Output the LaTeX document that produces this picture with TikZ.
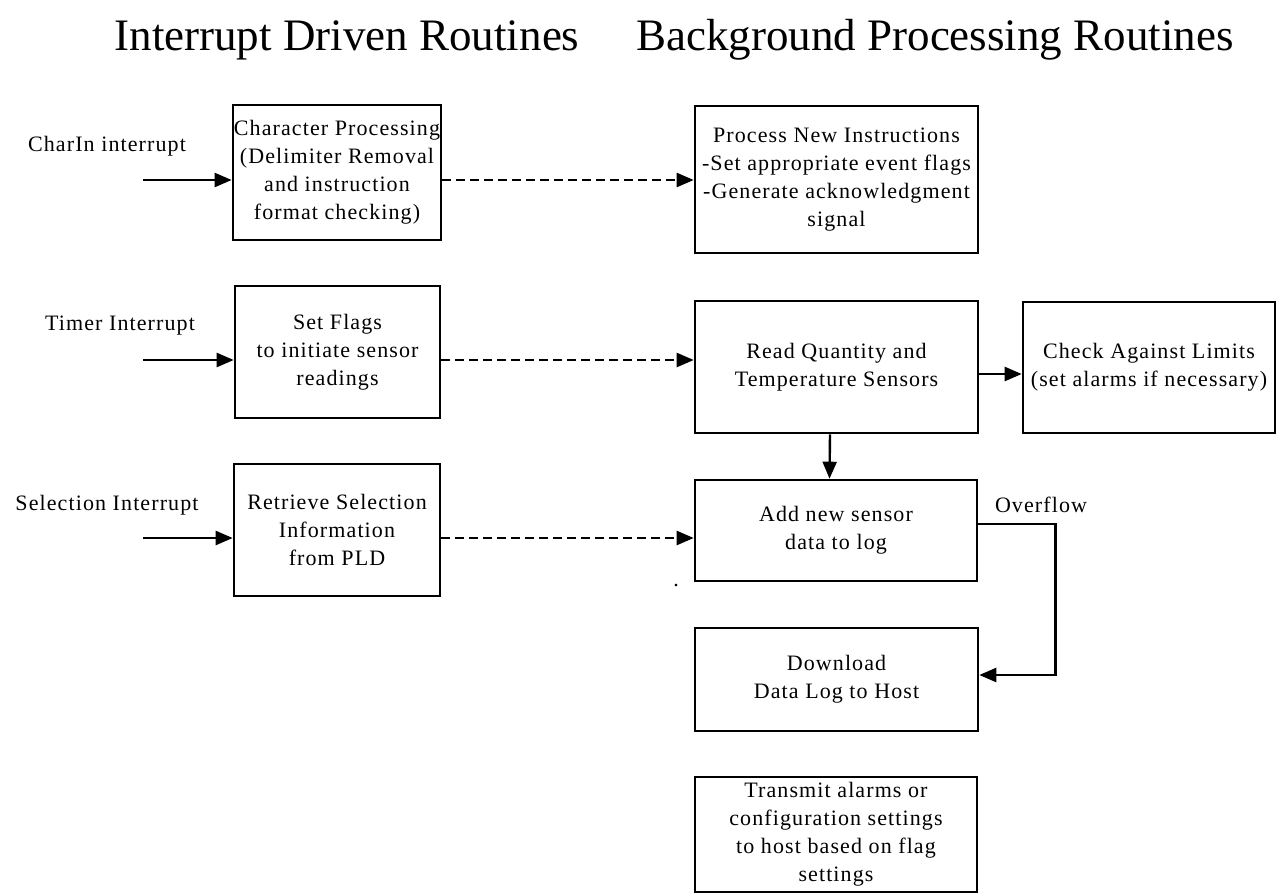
\documentclass[tikz,border=0pt]{standalone}
\usepackage{fontspec}
\setmainfont{Liberation Serif}
\newfontfamily\boxfont{Liberation Serif}[LetterSpace=5]
\usetikzlibrary{arrows.meta}

\begin{document}
\begin{tikzpicture}[x=1pt,y=-1pt,
  every node/.style={inner sep=0pt},
  proc/.style={draw, line width=2.6pt, align=center, inner sep=1pt,
    font=\boxfont\fontsize{22}{28}\selectfont},
  lbl/.style={font=\boxfont\fontsize{22}{28}\selectfont},
  heading/.style={font=\fontsize{45}{50}\selectfont},
  flow/.style={line width=2.4pt, line join=miter, -{Triangle[length=17pt,width=14pt]}},
  link/.style={flow, dash pattern=on 9pt off 5pt},
]
\useasboundingbox (0,0) rectangle (1280,894);

% column headings
\node[heading] (h1) at (347,40) {Interrupt Driven Routines};
\node[heading] (h2) at (935,40) {Background Processing Routines};

% interrupt driven routines
\node[proc, minimum width=206pt, minimum height=135pt] (chr) at (337,172.5)
  {Character Processing\\(Delimiter Removal\\and instruction\\format checking)};
\node[proc, minimum width=205pt, minimum height=132pt] (flg) at (337.5,352)
  {Set Flags\\to initiate sensor\\readings};
\node[proc, minimum width=206pt, minimum height=132pt] (ret) at (337,530)
  {Retrieve Selection\\Information\\from PLD};

% background processing routines
\node[proc, minimum width=283pt, minimum height=147pt] (pni) at (836.5,179.5)
  {Process New Instructions\\-Set appropriate event flags\\-Generate acknowledgment\\signal};
\node[proc, minimum width=283pt, minimum height=132pt] (rqt) at (836.5,367)
  {Read Quantity and\\Temperature Sensors};
\node[proc, minimum width=252pt, minimum height=131pt] (chk) at (1149,367.5)
  {Check Against Limits\\(set alarms if necessary)};
\node[proc, minimum width=282pt, minimum height=101pt] (add) at (836,530.5)
  {Add new sensor\\data to log};
\node[proc, minimum width=283pt, minimum height=103pt] (dwn) at (836.5,679.5)
  {Download\\Data Log to Host};
\node[proc, minimum width=282pt, minimum height=115pt] (tx) at (836,834.5)
  {Transmit alarms or\\configuration settings\\to host based on flag\\settings};

% interrupt sources
\node[lbl] (l1) at (107,146) {CharIn interrupt};
\node[lbl] (l2) at (120,326) {Timer Interrupt};
\node[lbl] (l3) at (107,505) {Selection Interrupt};
\node[lbl] (ov) at (1041,505) {Overflow};
\node[lbl] (dot) at (676,586) {.};

\coordinate (in1) at (143,180);
\coordinate (in2) at (143,360);
\coordinate (in3) at (143,538);

\draw[flow] (in1) -- ([yshift=-7.5pt]chr.west);
\draw[flow] (in2) -- ([yshift=-8pt]flg.west);
\draw[flow] (in3) -- ([yshift=-8pt]ret.west);

% hand-over to background routines
\draw[link] ([yshift=-7.5pt]chr.east) -- ([yshift=-7.5pt]chr.east -| pni.west);
\draw[link] ([yshift=-8pt]flg.east) -- ([yshift=-8pt]flg.east -| rqt.west);
\draw[link] ([yshift=-8pt]ret.east) -- ([yshift=-8pt]ret.east -| add.west);

% sensor data path
\draw[flow] ([yshift=-7pt]rqt.east) -- ([yshift=-7pt]rqt.east -| chk.west);
\draw[flow] ([xshift=-6.5pt]rqt.south) -- ([xshift=-6.5pt]add.north);
\coordinate (ovf) at ([yshift=6.5pt,xshift=77pt]add.east);
\draw[flow] ([yshift=6.5pt]add.east) -- (ovf) |- ([yshift=4.5pt]dwn.east);
\end{tikzpicture}
\end{document}
